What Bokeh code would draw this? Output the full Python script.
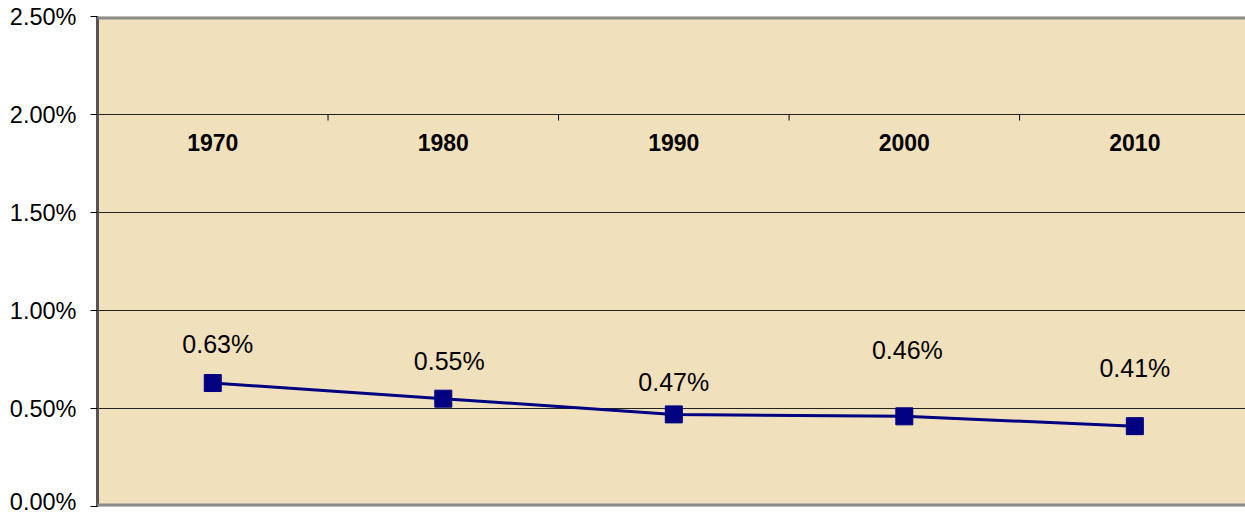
import math
from bokeh.plotting import figure
from bokeh.models import Range1d, ColumnDataSource, NumeralTickFormatter, FixedTicker, Span
from bokeh.core.properties import value
from bokeh.embed import file_html
from bokeh.resources import INLINE

# ---- data ----
years = ["1970", "1980", "1990", "2000", "2010"]
rates_pct = [0.63, 0.55, 0.47, 0.46, 0.41]
y_ticks_pct = [0.0, 0.5, 1.0, 1.5, 2.0, 2.5]

# ---- layout (label placement, pixels) ----
label_dx = [5, 6, 0, 3, 0]
label_dy = [-39, -38, -32, -66, -58]

FONT = "Liberation Sans"
xs = list(range(len(years)))
fracs = [v / 100.0 for v in rates_pct]

src = ColumnDataSource(dict(
    x=xs,
    y=fracs,
    lbl=[f"{v:.2f}%" for v in rates_pct],
    dx=label_dx,
    dy=label_dy,
))

p = figure(
    width=1245, height=514,
    x_range=Range1d(-0.5, 4.48),
    y_range=Range1d(0, 0.025),
    x_axis_location=None,
    output_backend="svg",
    toolbar_location=None,
    min_border_left=97, min_border_right=0,
    min_border_top=16, min_border_bottom=8,
)
p.background_fill_color = "#F1E0BC"
p.border_fill_color = "white"
p.outline_line_color = None

p.xgrid.visible = False
p.ygrid.ticker = FixedTicker(ticks=[0.005, 0.010, 0.015, 0.020])
p.ygrid.grid_line_color = "black"
p.ygrid.grid_line_width = 1
p.ygrid.grid_line_alpha = 0.85

# top and bottom frame borders
for yv in (0.0, 0.025):
    p.add_layout(Span(location=yv, dimension="width",
                      line_color="#8c8c8c", line_width=6))

ax = p.yaxis[0]
ax.ticker = FixedTicker(ticks=[t / 100.0 for t in y_ticks_pct])
ax.formatter = NumeralTickFormatter(format="0.00%")
ax.major_label_text_font = FONT
ax.major_label_text_font_size = "23.5px"
ax.major_label_text_color = "black"
ax.major_tick_out = 7
ax.major_tick_in = 0
ax.minor_tick_out = 0
ax.minor_tick_in = 0
ax.major_tick_line_color = "black"
ax.axis_line_color = "#555555"
ax.axis_line_width = 3
ax.major_label_standoff = 14

# category "axis" crossing at 2.00%
cross = 0.02
p.ray(x=[i + 0.5 for i in range(len(years))], y=[cross] * len(years),
      length=6, length_units="screen", angle=-math.pi / 2,
      line_color="black", line_width=1)
p.text(x=xs, y=[cross] * len(years), text=years,
       text_font=value(FONT), text_font_size="23px", text_font_style="bold",
       text_align="center", text_baseline="middle", y_offset=28,
       text_color="black")

# series
p.line(x="x", y="y", source=src, line_color="#000080", line_width=3)
p.scatter(x="x", y="y", source=src, marker="square", size=17,
          fill_color="#000080", line_color="#000080")
p.text(x="x", y="y", text="lbl", source=src, x_offset="dx", y_offset="dy",
       text_font=value(FONT), text_font_size="25px",
       text_align="center", text_baseline="middle", text_color="black")

open("out.html", "w").write(file_html(p, INLINE))
